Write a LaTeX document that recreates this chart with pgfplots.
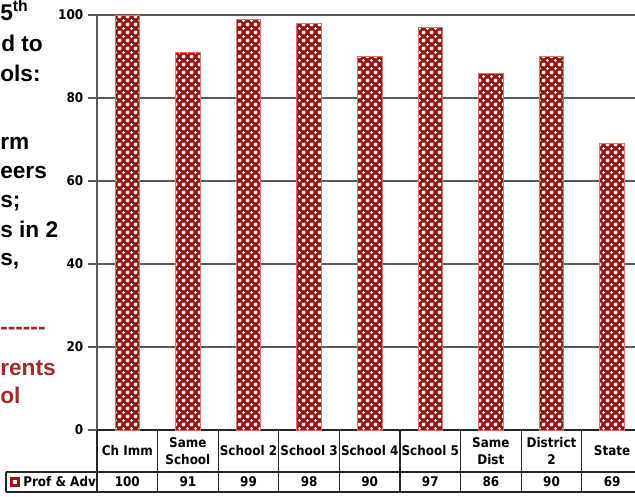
\documentclass[border=0pt]{standalone}
\usepackage{pgfplots}
\usepackage{pgfplotstable}
\pgfplotsset{compat=1.18}
\usepackage{fontspec}
\setmainfont{Liberation Sans}
\IfFontExistsTF{DejaVu Sans Condensed}{\newfontfamily\tfont{DejaVu Sans Condensed}}{\newfontfamily\tfont{DejaVu Sans}[FakeStretch=0.88]}
\usetikzlibrary{patterns.meta}
\definecolor{barred}{RGB}{150,22,22}
\definecolor{baredge}{RGB}{232,110,100}
\definecolor{txtred}{RGB}{163,42,38}
\definecolor{gridc}{RGB}{90,90,90}
\pgfdeclarepattern{
  name=bigdots, type=uncolored,
  bottom left={\pgfpoint{0pt}{0pt}},
  top right={\pgfpoint{6pt}{6pt}},
  tile size={\pgfpoint{6pt}{6pt}},
  code={
    \pgfpathcircle{\pgfpoint{3pt}{3pt}}{1.35pt}
    \pgfpathcircle{\pgfpoint{0pt}{0pt}}{1.35pt}
    \pgfpathcircle{\pgfpoint{6pt}{0pt}}{1.35pt}
    \pgfpathcircle{\pgfpoint{0pt}{6pt}}{1.35pt}
    \pgfpathcircle{\pgfpoint{6pt}{6pt}}{1.35pt}
    \pgfusepath{fill}
  }
}
\pgfplotstableread{
x v
0 100
1 91
2 99
3 98
4 90
5 97
6 86
7 90
8 69
}\datatab
\newcommand\tabfont{\tfont\bfseries\fontsize{10}{13}\selectfont}
\begin{document}
\begin{tikzpicture}
\begin{axis}[
  at={(72.75pt,-322.5pt)}, anchor=south west,
  scale only axis, width=409.05pt, height=311.25pt,
  xmin=-0.5, xmax=8.5, ymin=0, ymax=100,
  axis x line*=bottom, axis y line*=left,
  x axis line style={draw=black!85, line width=1.3pt},
  y axis line style={draw=gridc, line width=1.1pt},
  xtick={0,...,8},
  xticklabels={Ch Imm, {Same\\School}, School 2, School 3, School 4, School 5, {Same\\Dist}, {District\\2}, State},
  xtick style={draw=none},
  xticklabel style={anchor=center, yshift=-9pt, align=center, font=\tabfont},
  ytick={0,20,...,100},
  ytick style={draw=gridc, line width=1.1pt},
  tick align=outside,
  major tick length=6.75pt,
  ymajorgrids, grid style={draw=gridc, line width=1.2pt},
  yticklabel style={font=\tabfont},
  /pgf/number format/assume math mode=true,
  clip=false,
]
\addplot[ybar, bar width=18.4pt, preaction={fill=barred}, pattern=bigdots, pattern color=white, draw=baredge, line width=0.7pt] table[x=x, y=v]{\datatab};
\addplot[draw=none, mark=none, nodes near coords, point meta=explicit,
  nodes near coords style={anchor=center, yshift=-39pt, font=\tabfont}] table[x=x, y expr=0, meta=v]{\datatab};
\end{axis}
\begin{scope}[x=0.75pt, y=-0.75pt]
  \draw[black!85, line width=1pt] (6,472) -- (642.4,472);
  \draw[black!85, line width=1pt] (6,492) -- (642.4,492);
  \draw[black!85, line width=1pt] (6,472) -- (6,492);
  \foreach \k in {0,...,9} \draw[black!85, line width=1pt] ({97+60.6*\k},430) -- ({97+60.6*\k},492);
  \fill[barred] (10,477) rectangle (20,487);
  \fill[white] (13,480) rectangle (17,484);
  \node[anchor=west, inner sep=0pt, font=\tabfont] at (23,482) {Prof \& Adv};
  \begin{scope}[every node/.style={anchor=base west, inner sep=0pt, font=\bfseries\fontsize{17}{20}\selectfont}]
    \node at (0,20) {5\textsuperscript{th}};
    \node at (1,51) {d to};
    \node at (0,81) {ols:};
    \node at (0,149) {rm};
    \node at (0,178) {eers};
    \node at (0,207) {s;};
    \node at (0,237) {s in 2};
    \node at (0,265) {s,};
    \node[text=txtred] at (0,334) {-{}-{}-{}-{}-{}-};
    \node[text=txtred] at (0,375) {rents};
    \node[text=txtred] at (0,403) {ol};
  \end{scope}
\end{scope}
\pgfresetboundingbox
\path[use as bounding box] (0pt,0pt) rectangle (476.25pt,-372pt);
\end{tikzpicture}
\end{document}
